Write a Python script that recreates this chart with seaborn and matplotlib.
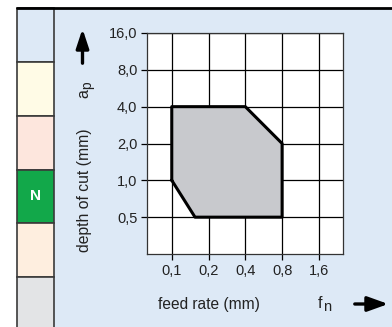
import matplotlib
matplotlib.use('Agg')
import matplotlib.pyplot as plt
import seaborn as sns
import pandas as pd
from matplotlib.patches import Rectangle

# cutting data region (feed rate vs depth of cut)
feed = [0.1, 0.1, 0.4, 0.8, 0.8, 0.155, 0.1]
depth = [1.0, 4.0, 4.0, 2.0, 0.5, 0.5, 1.0]

x_ticks = [0.1, 0.2, 0.4, 0.8, 1.6]
x_labels = ['0,1', '0,2', '0,4', '0,8', '1,6']
y_ticks = [0.5, 1, 2, 4, 8, 16]
y_labels = ['0,5', '1,0', '2,0', '4,0', '8,0', '16,0']

band_colors = ['#dde9f6', '#fffbe6', '#fde6dd', '#12a84a', '#feeedf', '#e3e4e6']
band_labels = ['', '', '', 'N', '', '']

sns.set_style('white')
plt.rcParams['font.family'] = ['Liberation Sans', 'DejaVu Sans']

W, H = 392, 327
fig = plt.figure(figsize=(W / 100, H / 100), dpi=100)
fig.patch.set_facecolor('white')


def px(x0, y0, x1, y1):
    # pixel box -> figure coords
    return x0 / W, 1 - y1 / H, (x1 - x0) / W, (y1 - y0) / H


# main light blue panel
l, b, w, h = px(54, 8, 392, 327)
fig.add_artist(Rectangle((l, b), w, h, transform=fig.transFigure,
                         facecolor='#dde9f6', edgecolor='none', zorder=0))

# sidebar bands
tops = [8, 62, 116, 170, 223, 277, 331]
for i, c in enumerate(band_colors):
    l, b, w, h = px(17, tops[i], 53.5, tops[i + 1])
    fig.add_artist(Rectangle((l, b), w, h, transform=fig.transFigure,
                             facecolor=c, edgecolor='#3a3a3a', lw=1.2, zorder=1))
    if band_labels[i]:
        fig.text(l + w / 2, b + h / 2, band_labels[i], color='white',
                 fontsize=11, fontweight='bold', ha='center', va='center')

# top rule
fig.add_artist(plt.Line2D([17 / W, 1], [1 - 8 / H, 1 - 8 / H],
                          transform=fig.transFigure, color='black', lw=2, zorder=3))

l, b, w, h = px(147, 33, 343, 254)
ax = fig.add_axes([l, b, w, h])
ax.set_facecolor('white')
ax.set_xscale('log', base=2)
ax.set_yscale('log', base=2)
ax.set_xlim(0.0627, 2.52)
ax.set_ylim(0.25, 16)

ax.fill(feed, depth, color='#c8c9cd', zorder=2)
df = pd.DataFrame({'feed': feed, 'depth': depth})
sns.lineplot(data=df, x='feed', y='depth', sort=False, estimator=None,
             color='black', lw=2.2, ax=ax, zorder=3)

ax.set_xticks(x_ticks)
ax.set_xticklabels(x_labels)
ax.set_yticks(y_ticks)
ax.set_yticklabels(y_labels)
ax.minorticks_off()
ax.grid(True, color='black', lw=0.9, zorder=1)
ax.set_axisbelow(True)
ax.tick_params(axis='both', length=4, width=0.9, color='black',
               labelsize=10.5, labelcolor='#222222', pad=3,
               bottom=True, left=True)
for s in ax.spines.values():
    s.set_color('#333333')
    s.set_linewidth(0.9)
ax.set_xlabel('')
ax.set_ylabel('')

txt = dict(color='#222222', ha='center', va='center')
# axis annotations
fig.text(84 / W, 1 - 190 / H, 'depth of cut (mm)', rotation=90, fontsize=11.3, **txt)
fig.text(209 / W, 1 - 305 / H, 'feed rate (mm)', fontsize=11.2, **txt)
# symbols with subscripts
fig.text(84 / W, 1 - 94 / H, 'a', rotation=90, fontsize=11.5, **txt)
fig.text(87.5 / W, 1 - 85 / H, 'p', rotation=90, fontsize=10, **txt)
fig.text(320.5 / W, 1 - 303 / H, 'f', fontsize=11.5, **txt)
fig.text(327.5 / W, 1 - 307 / H, 'n', fontsize=10.5, **txt)

fig.add_artist(plt.Annotation('', xy=(82.5 / W, 1 - 26 / H), xytext=(82.5 / W, 1 - 66 / H),
                              xycoords='figure fraction',
                              arrowprops=dict(arrowstyle='-|>,head_length=1.15,head_width=0.38',
                                              color='black', lw=2.4)))
fig.add_artist(plt.Annotation('', xy=(391 / W, 1 - 304 / H), xytext=(352 / W, 1 - 304 / H),
                              xycoords='figure fraction',
                              arrowprops=dict(arrowstyle='-|>,head_length=1.25,head_width=0.45',
                                              color='black', lw=2.4)))

fig.savefig('out.png', dpi=100)
